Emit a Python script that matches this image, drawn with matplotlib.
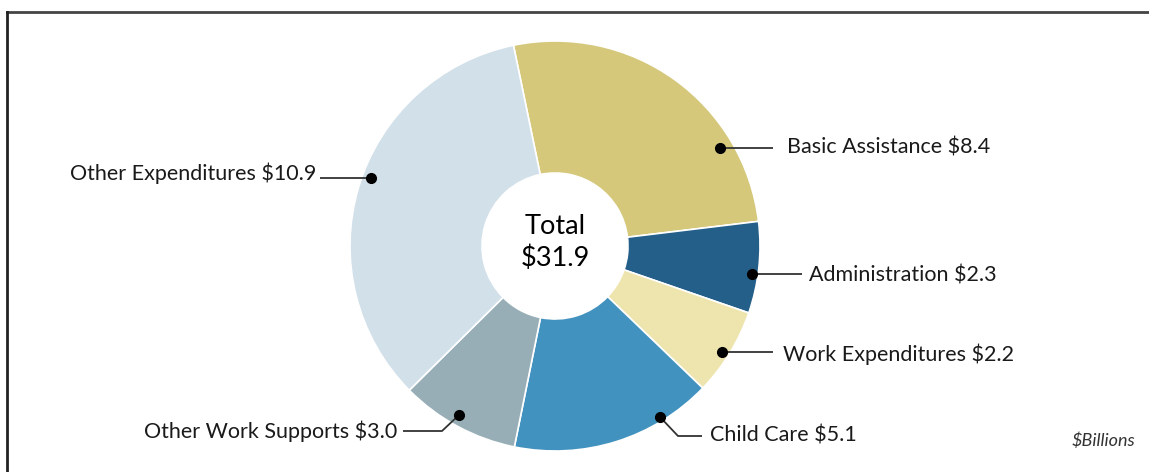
import matplotlib
matplotlib.use("Agg")
import matplotlib.pyplot as plt

categories = ["Basic Assistance", "Administration", "Work Expenditures",
              "Child Care", "Other Work Supports", "Other Expenditures"]
values = [8.4, 2.3, 2.2, 5.1, 3.0, 10.9]
total_label = "$31.9"
unit_label = "$Billions"

colors = ["#D5C87B", "#245F8A", "#EEE4AD", "#4292BF", "#97AEB7", "#D2E0EA"]

W, H = 1149, 472
fig = plt.figure(figsize=(W / 100, H / 100), dpi=100)
ax = fig.add_axes([0, 0, 1, 1])

FONT = ["Lato", "DejaVu Sans"]
cx, cy = 555, H - 246
R, r_in = 205, 73

ax.pie(values, colors=colors, startangle=101.7, counterclock=False,
       center=(cx, cy), radius=R, frame=False,
       wedgeprops=dict(width=R - r_in, edgecolor="white", linewidth=1.2))
ax.set_xlim(0, W)
ax.set_ylim(0, H)
ax.set_aspect("equal")
ax.axis("off")

def py(y):
    return H - y

# layout: dot (pixel), leader path points, text anchor, alignment
layout = [
    dict(dot=(720, 148), path=[(773, 148)], text=(787, 148), ha="left"),
    dict(dot=(752, 274), path=[(802, 274)], text=(809, 275), ha="left"),
    dict(dot=(722, 352), path=[(773, 352)], text=(783, 354), ha="left"),
    dict(dot=(660, 417), path=[(678, 436), (702, 436)], text=(710, 436), ha="left"),
    dict(dot=(459, 415), path=[(442, 431), (403, 431)], text=(397, 431), ha="right"),
    dict(dot=(371, 178), path=[(320, 178)], text=(316, 173), ha="right"),
]

for cat, val, lay in zip(categories, values, layout):
    xs = [lay["dot"][0]] + [p[0] for p in lay["path"]]
    ys = [py(lay["dot"][1])] + [py(p[1]) for p in lay["path"]]
    ax.plot(xs, ys, color="#333333", lw=1.3, solid_capstyle="butt", zorder=5)
    ax.plot([lay["dot"][0]], [py(lay["dot"][1])], "o", color="black",
            ms=7, zorder=6)
    ax.text(lay["text"][0], py(lay["text"][1]), f"{cat} ${val:.1f}",
            ha=lay["ha"], va="center", fontsize=15.5, color="#1a1a1a",
            family=FONT)

ax.text(cx, cy + 20, "Total", ha="center", va="center", fontsize=19.5,
        color="black", family=FONT)
ax.text(cx, cy - 12, total_label, ha="center", va="center", fontsize=19.5,
        color="black", family=FONT)

ax.text(1135, py(441), unit_label, ha="right", va="center", fontsize=13,
        style="italic", color="#333333", family=FONT)

# frame lines (top and left)
ax.plot([7, W + 5], [py(12), py(12)], color="#444444", lw=2, clip_on=False)
ax.plot([7, 7], [py(12), -5], color="#222222", lw=2, clip_on=False)

fig.savefig("out.png", dpi=100)
